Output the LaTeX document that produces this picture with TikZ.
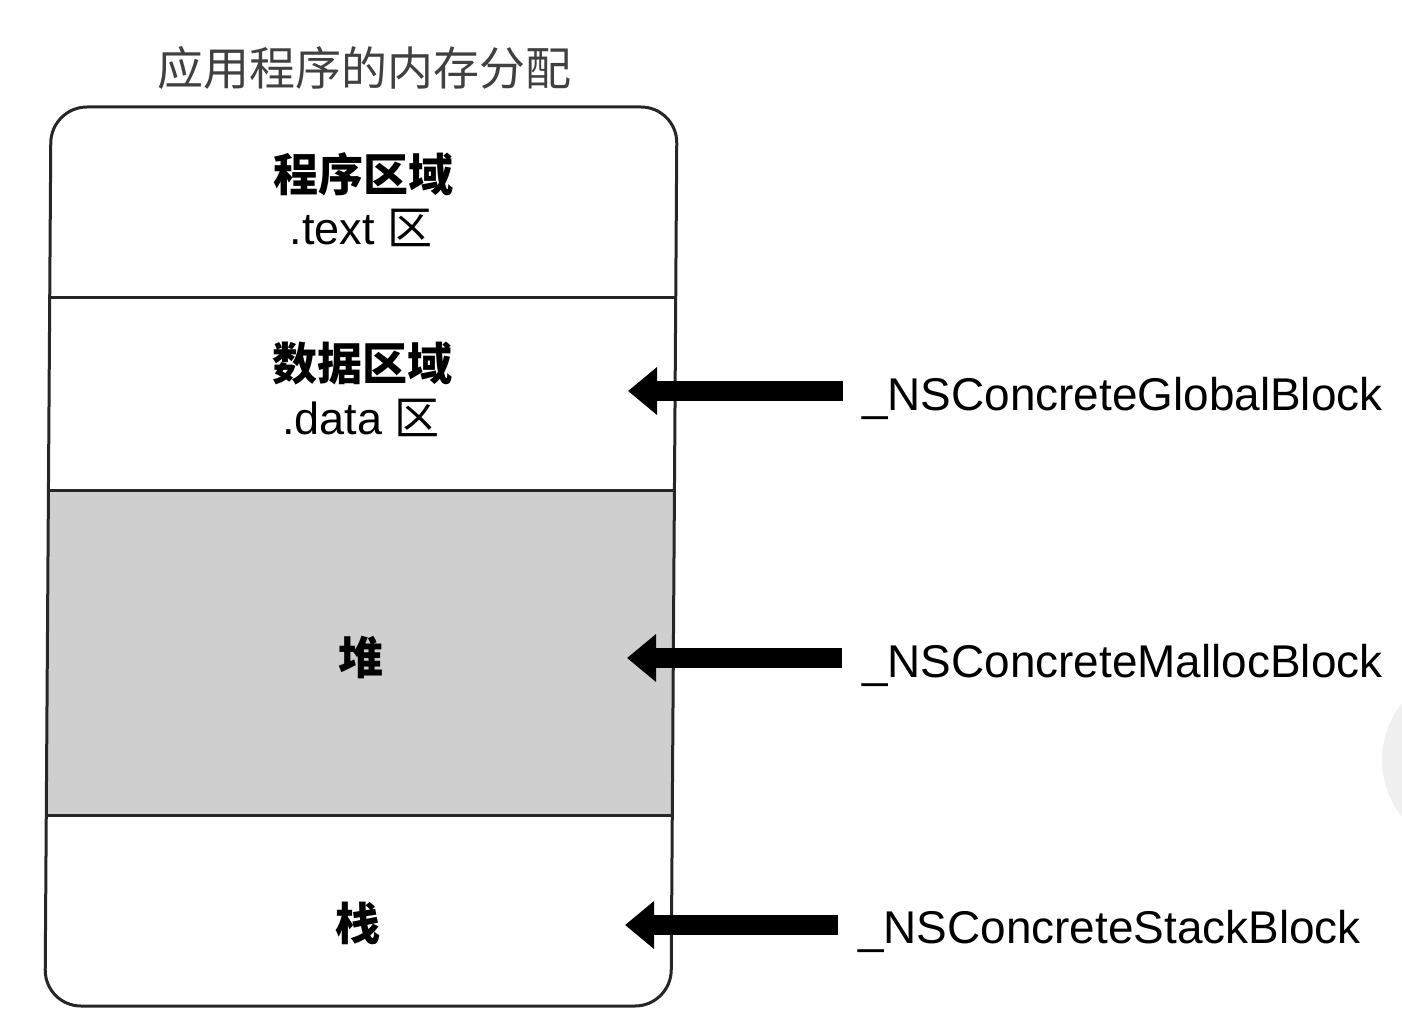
\documentclass[tikz,border=0pt]{standalone}
\usepackage{fontspec}
\setmainfont{Liberation Sans}
\newfontfamily\cjk{Noto Sans CJK SC}
\usetikzlibrary{arrows.meta}
\definecolor{heapgray}{gray}{0.81}
\definecolor{titlegray}{gray}{0.25}
\begin{document}
\begin{tikzpicture}[x=1pt,y=-1pt,
  big/.style={font=\fontsize{45}{54}\selectfont, inner sep=0pt},
  region/.style={big, font=\fontsize{45}{54}\selectfont\cjk\bfseries},
  lbl/.style={inner sep=0pt, anchor=base west, font=\fontsize{45.9}{54}\selectfont},
  outline/.style={line width=3pt, draw=black!85},
  bigarrow/.style={line width=20pt, -{Triangle[length=29pt,width=46pt]}}]
\useasboundingbox (0,0) rectangle (1402,1032);
% faint artifact on right edge
\fill[black!6] (1472,760) circle (90);
% heap fill
\fill[heapgray] (48.4,490) -- (674.4,490) -- (672.3,815) -- (46.3,815) -- cycle;
% outer rounded box
\draw[outline, rounded corners=36pt] (364,107) -- (677,107) -- (671,1006) -- (45,1006) -- (51,107) -- cycle;
% dividers
\draw[outline] (49.7,297) -- (675.7,297);
\draw[outline] (48.4,490) -- (674.4,490);
\draw[outline] (46.3,815) -- (672.3,815);
% title
\node[big, text=titlegray, font=\fontsize{46}{54}\selectfont\cjk] (title) at (364,68) {应用程序的内存分配};
% region texts
\node[region] (textA) at (363,174) {程序区域};
\node[big] (textB) at (361,228) {.text {\cjk 区}};
\node[region] (dataA) at (362,364) {数据区域};
\node[big] (dataB) at (361,418) {.data {\cjk 区}};
\node[region] (heap) at (361,657) {堆};
\node[region] (stack) at (358,923) {栈};
% labels
\node[lbl] (glob) at (862,410) {\_NSConcreteGlobalBlock};
\node[lbl] (mall) at (862,677) {\_NSConcreteMallocBlock};
\node[lbl] (stak) at (858,943) {\_NSConcreteStackBlock};
% arrows
\coordinate (gs) at (843,391); \coordinate (gt) at (628,391);
\coordinate (ms) at (842,658); \coordinate (mt) at (627,658);
\coordinate (ss) at (838,925); \coordinate (st) at (625,925);
\draw[bigarrow] (gs) -- (gt);
\draw[bigarrow] (ms) -- (mt);
\draw[bigarrow] (ss) -- (st);
\end{tikzpicture}
\end{document}
